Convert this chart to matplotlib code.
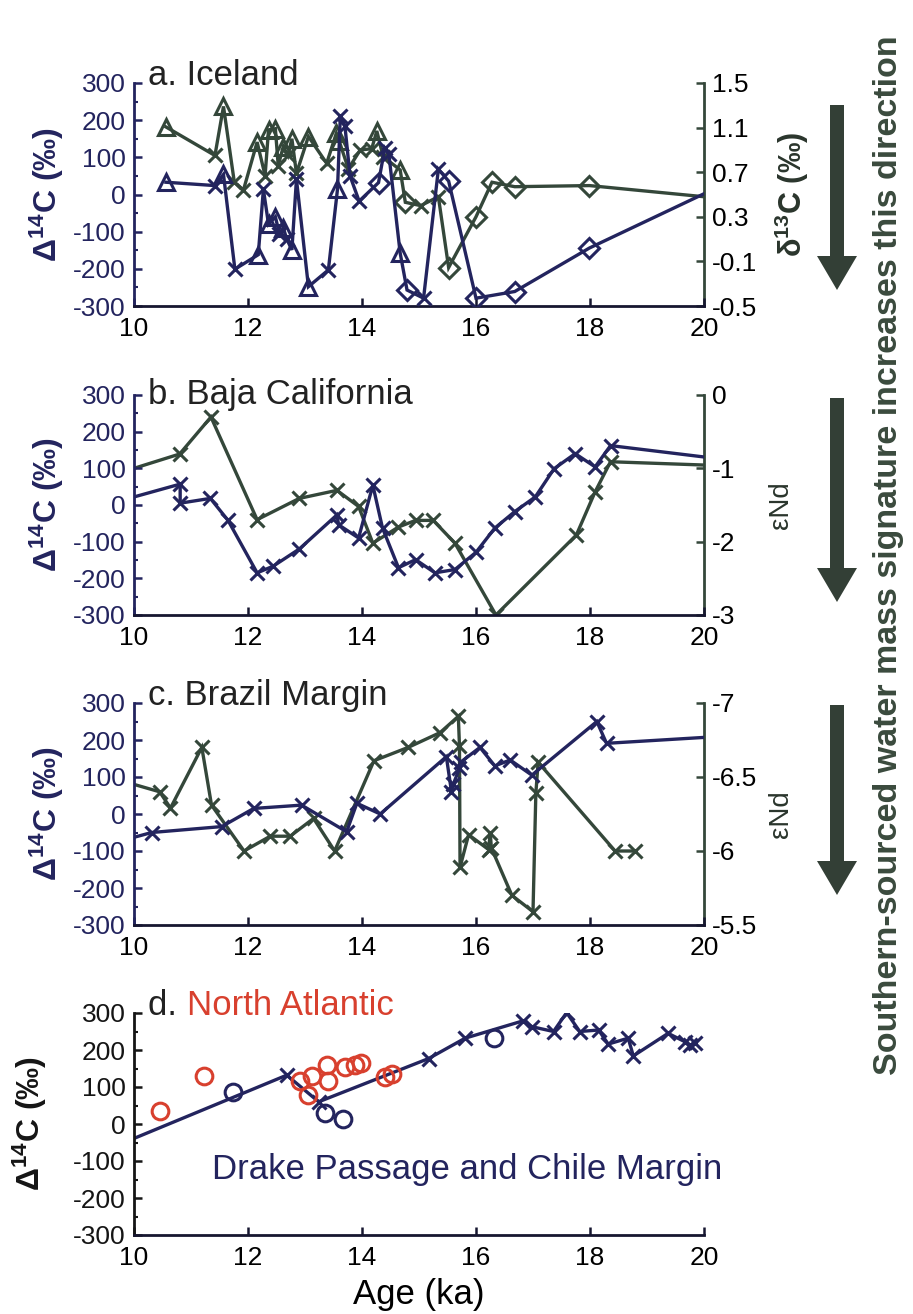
import numpy as np
import matplotlib
matplotlib.use("Agg")
import matplotlib.pyplot as plt
from matplotlib.ticker import MultipleLocator, FixedLocator
from matplotlib.patches import FancyArrow

plt.rcParams.update({
    "font.family": ["Liberation Sans", "DejaVu Sans"],
    "axes.unicode_minus": False,
    "mathtext.fontset": "custom",
    "mathtext.rm": "Liberation Sans",
    "mathtext.bf": "Liberation Sans:bold",
    "mathtext.it": "Liberation Sans:italic",
    "mathtext.default": "regular",
})

# ---------------- data ----------------
# a. Iceland: radiocarbon (left axis) and benthic d13C (right axis); core code per point
ice_c14_age = [10.56, 11.42, 11.57, 11.77, 12.18, 12.27, 12.36, 12.48, 12.55, 12.62, 12.68,
               12.77, 12.85, 13.06, 13.41, 13.57, 13.62, 13.70, 13.79, 13.95, 14.29, 14.40,
               14.47, 14.67, 14.79, 15.08, 15.34, 15.52, 16.00, 16.68, 17.99, 20.00]
ice_c14 = [33, 24, 54, -201, -162, 14, -80, -60, -105, -90, -120,
           -149, 41, -248, -203, 14, 212, 185, 50, -18, 32, 125,
           110, -158, -257, -279, 68, 36, -279, -261, -144, 2]
ice_c14_core = ["T", "X", "T", "X", "T", "X", "T", "T", "X", "T", "X",
                "T", "X", "T", "X", "T", "X", "X", "X", "X", "D", "X",
                "X", "T", "D", "X", "X", "D", "D", "D", "D", "D"]

ice_d13c_age = [10.56, 11.42, 11.57, 11.76, 11.92, 12.16, 12.30, 12.36, 12.48, 12.53, 12.62,
                12.70, 12.77, 12.85, 13.06, 13.38, 13.55, 13.60, 13.76, 13.97, 14.17, 14.26,
                14.37, 14.67, 14.76, 15.03, 15.34, 15.52, 16.00, 16.28, 16.68, 17.99, 20.00]
ice_d13c = [1.106, 0.85, 1.29, 0.61, 0.54, 0.97, 0.67, 1.08, 1.09, 0.76, 0.93,
            0.85, 1.00, 0.69, 1.02, 0.78, 1.05, 0.98, 0.73, 0.90, 0.91, 1.07,
            0.84, 0.72, 0.43, 0.40, 0.48, -0.155, 0.30, 0.61, 0.57, 0.58, 0.48]
ice_d13c_core = ["T", "X", "T", "X", "X", "T", "X", "T", "T", "X", "T",
                 "X", "T", "X", "T", "X", "T", "T", "X", "X", "X", "T",
                 "X", "T", "D", "X", "X", "D", "D", "D", "D", "D", "D"]

# b. Baja California: radiocarbon and eNd
baja_c14_age = [10.00, 10.81, 10.81, 11.34, 11.65, 12.16, 12.44, 12.90, 13.56, 13.59, 13.94,
                14.19, 14.36, 14.64, 14.94, 15.28, 15.63, 16.00, 16.33, 16.68, 17.04, 17.37,
                17.74, 18.09, 18.36, 20.00]
baja_c14 = [22, 57, 5, 18, -42, -185, -167, -120, -27, -54, -90,
            54, -63, -171, -149, -185, -176, -129, -63, -18, 22, 99,
            140, 104, 162, 131]
baja_nd_age = [10.00, 10.80, 11.35, 12.16, 12.90, 13.56, 13.94, 14.19, 14.64, 14.94, 15.25,
               15.63, 16.35, 17.76, 18.09, 18.36, 20.00]
baja_nd = [-1.00, -0.805, -0.30, -1.70, -1.41, -1.30, -1.52, -2.02, -1.80, -1.71, -1.71,
           -2.02, -3.00, -1.91, -1.32, -0.91, -0.955]

# c. Brazil Margin: radiocarbon and eNd
braz_c14_age = [10.00, 10.31, 11.54, 12.10, 12.94, 13.73, 13.91, 14.32, 15.48, 15.57, 15.60,
                15.71, 15.73, 16.07, 16.33, 16.60, 16.98, 18.12, 18.29, 20.00]
braz_c14 = [-63, -50, -34, 15, 24, -48, 29, 0, 155, 60, 80,
            123, 140, 180, 130, 146, 105, 250, 191, 207]
braz_nd_age = [10.00, 10.45, 10.64, 11.19, 11.36, 11.93, 12.39, 12.74, 13.15, 13.52, 14.21,
               14.81, 15.37, 15.69, 15.71, 15.72, 15.87, 16.22, 16.25, 16.27, 16.63, 17.00,
               17.05, 17.09, 18.44, 18.79]
braz_nd = [-6.45, -6.40, -6.29, -6.70, -6.31, -6.00, -6.10, -6.10, -6.22, -6.00, -6.61,
           -6.70, -6.80, -6.91, -6.71, -5.89, -6.11, -6.01, -6.12, -6.02, -5.70, -5.59,
           -6.39, -6.60, -6.00, -6.00]

# d. Drake Passage / Chile Margin and North Atlantic radiocarbon
drake_age = [10.00, 12.68, 13.24, 15.17, 15.81, 16.83, 16.98, 17.36, 17.59, 17.82, 18.15,
             18.32, 18.67, 18.76, 19.37, 19.67, 19.75, 19.84]
drake_c14 = [-39, 132, 60, 177, 232, 279, 263, 250, 301, 250, 254,
             216, 232, 184, 245, 222, 213, 218]
drake_pt_age = [11.74, 13.35, 13.67, 16.31]
drake_pt_c14 = [87, 29, 14, 232]
natl_age = [10.46, 11.22, 12.91, 13.06, 13.12, 13.38, 13.41, 13.70, 13.88, 13.99, 14.40, 14.52]
natl_c14 = [35, 131, 116, 78, 130, 159, 116, 155, 159, 166, 128, 134]

# ---------------- styles ----------------
NAVY = "#23245e"
GREEN = "#34473a"
RED = "#d8402e"
ARROW = "#333f36"
MARKERS = {"T": ("^", 12), "X": ("x", 10), "D": ("D", 10)}
LW = 2.4

W, H = 913, 1314
fig = plt.figure(figsize=(W / 100, H / 100), dpi=100)


def rect(top_px, bottom_px, left_px=134, right_px=704):
    return [left_px / W, 1 - bottom_px / H, (right_px - left_px) / W, (bottom_px - top_px) / H]


def draw_series(ax, ages, vals, color, cores=None):
    ages = np.asarray(ages, float)
    vals = np.asarray(vals, float)
    ax.plot(ages, vals, "-", color=color, lw=LW, zorder=2, solid_joinstyle="miter")
    inside = (ages > 10) & (ages < 20)
    cores = np.asarray(cores if cores is not None else ["X"] * len(ages))
    for code, (mk, ms) in MARKERS.items():
        sel = inside & (cores == code)
        if sel.any():
            ax.plot(ages[sel], vals[sel], ls="none", marker=mk, ms=ms, mfc="none",
                    mec=color, mew=2.2, zorder=3)


def style_left(ax, color, label_x=-0.12):
    ax.set_xlim(10, 20)
    ax.set_ylim(-300, 300)
    ax.xaxis.set_major_locator(MultipleLocator(2))
    ax.yaxis.set_major_locator(MultipleLocator(100))
    ax.yaxis.set_minor_locator(MultipleLocator(50))
    for s in ("top", "right"):
        ax.spines[s].set_visible(False)
    ax.spines["left"].set_color(color)
    ax.spines["left"].set_linewidth(2.0)
    ax.spines["bottom"].set_color("#161630")
    ax.spines["bottom"].set_linewidth(2.0)
    ax.tick_params(axis="both", which="major", direction="in", length=6, width=1.8,
                   labelsize=19, pad=6)
    ax.tick_params(axis="y", which="minor", direction="in", length=3, width=1.5, colors=color)
    ax.tick_params(axis="y", which="major", colors=color, labelcolor=color)
    ax.tick_params(axis="x", colors="#161630", labelcolor="black", pad=8)
    ax.set_ylabel("Δ$^{\\mathbf{14}}$C (‰)", fontsize=23, fontweight="bold", color=color)
    ax.yaxis.set_label_coords(label_x, 0.5)
    ax.patch.set_alpha(0)


def style_right(axr, lim, ticks, label, bold=False, label_x=1.112):
    axr.set_ylim(*lim)
    axr.yaxis.set_major_locator(FixedLocator(ticks))
    for s in ("top", "left", "bottom"):
        axr.spines[s].set_visible(False)
    axr.spines["right"].set_color(GREEN)
    axr.spines["right"].set_linewidth(2.0)
    axr.tick_params(axis="y", direction="in", length=6, width=1.8, labelsize=19, pad=6,
                    colors=GREEN, labelcolor="black")
    axr.set_ylabel(label, fontsize=22 if bold else 20, fontweight="bold" if bold else "normal",
                   color="#2a352c", rotation=90)
    axr.yaxis.set_label_coords(label_x, 0.5)


def fmt_right(vals):
    return [("%g" % v) for v in vals]


# a. Iceland
axa = fig.add_axes(rect(83, 306))
style_left(axa, NAVY)
axa_r = axa.twinx()
draw_series(axa_r, ice_d13c_age, ice_d13c, GREEN, ice_d13c_core)
draw_series(axa, ice_c14_age, ice_c14, NAVY, ice_c14_core)
axa.set_zorder(axa_r.get_zorder() + 1)
a_ticks = [-0.5, -0.1, 0.3, 0.7, 1.1, 1.5]
style_right(axa_r, (-0.5, 1.5), a_ticks, "δ$^{\\mathbf{13}}$C (‰)", bold=True, label_x=1.121)
axa_r.set_yticklabels(fmt_right(a_ticks))
axa.text(0.025, 0.99, "a. Iceland", transform=axa.transAxes, fontsize=25,
         color="#222222", va="baseline", ha="left")

# b. Baja California
axb = fig.add_axes(rect(395, 615))
style_left(axb, NAVY)
axb_r = axb.twinx()
draw_series(axb_r, baja_nd_age, baja_nd, GREEN)
draw_series(axb, baja_c14_age, baja_c14, NAVY)
axb.set_zorder(axb_r.get_zorder() + 1)
b_ticks = [-3, -2, -1, 0]
style_right(axb_r, (-3, 0), b_ticks, "εNd")
axb_r.set_yticklabels(fmt_right(b_ticks))
axb.text(0.025, 0.96, "b. Baja California", transform=axb.transAxes, fontsize=25,
         color="#222222", va="baseline", ha="left")

# c. Brazil Margin
axc = fig.add_axes(rect(703, 925))
style_left(axc, NAVY)
axc_r = axc.twinx()
draw_series(axc_r, braz_nd_age, braz_nd, GREEN)
draw_series(axc, braz_c14_age, braz_c14, NAVY)
axc.set_zorder(axc_r.get_zorder() + 1)
c_ticks = [-7, -6.5, -6, -5.5]
style_right(axc_r, (-5.5, -7), c_ticks, "εNd")
axc_r.set_yticklabels(fmt_right(c_ticks))
axc.text(0.025, 0.99, "c. Brazil Margin", transform=axc.transAxes, fontsize=25,
         color="#222222", va="baseline", ha="left")

# d. Southern Ocean vs North Atlantic
axd = fig.add_axes(rect(1013, 1235))
style_left(axd, "#151515", label_x=-0.15)
draw_series(axd, drake_age, drake_c14, NAVY)
axd.plot(drake_pt_age, drake_pt_c14, ls="none", marker="o", ms=12, mfc="none",
         mec=NAVY, mew=2.2, zorder=4)
axd.plot(natl_age, natl_c14, ls="none", marker="o", ms=12, mfc="none",
         mec=RED, mew=2.2, zorder=5)
axd.set_xlabel("Age (ka)", fontsize=25, labelpad=6)
t1 = axd.text(0.025, 0.99, "d. ", transform=axd.transAxes, fontsize=25,
              color="#222222", va="baseline", ha="left")
axd.annotate("North Atlantic", xy=(1, 0), xycoords=t1, fontsize=25, color=RED,
             va="bottom", ha="left")
axd.text(11.37, -122, "Drake Passage and Chile Margin", fontsize=25, color=NAVY,
         va="center", ha="left")

# arrows and side caption in pixel space
over = fig.add_axes([0, 0, 1, 1], zorder=-5)
over.set_xlim(0, W)
over.set_ylim(H, 0)
over.axis("off")
for y0, y1 in [(105, 290), (398, 602), (705, 895)]:
    over.add_patch(FancyArrow(837, y0, 0, y1 - y0, width=14, head_width=40,
                              head_length=34, length_includes_head=True,
                              color=ARROW, lw=0))
over.text(889, 555, "Southern-sourced water mass signature increases this direction",
          rotation=90, fontsize=24.5, fontweight="bold", color="#3a4a3d",
          ha="center", va="center")

fig.savefig("out.png", dpi=100)
